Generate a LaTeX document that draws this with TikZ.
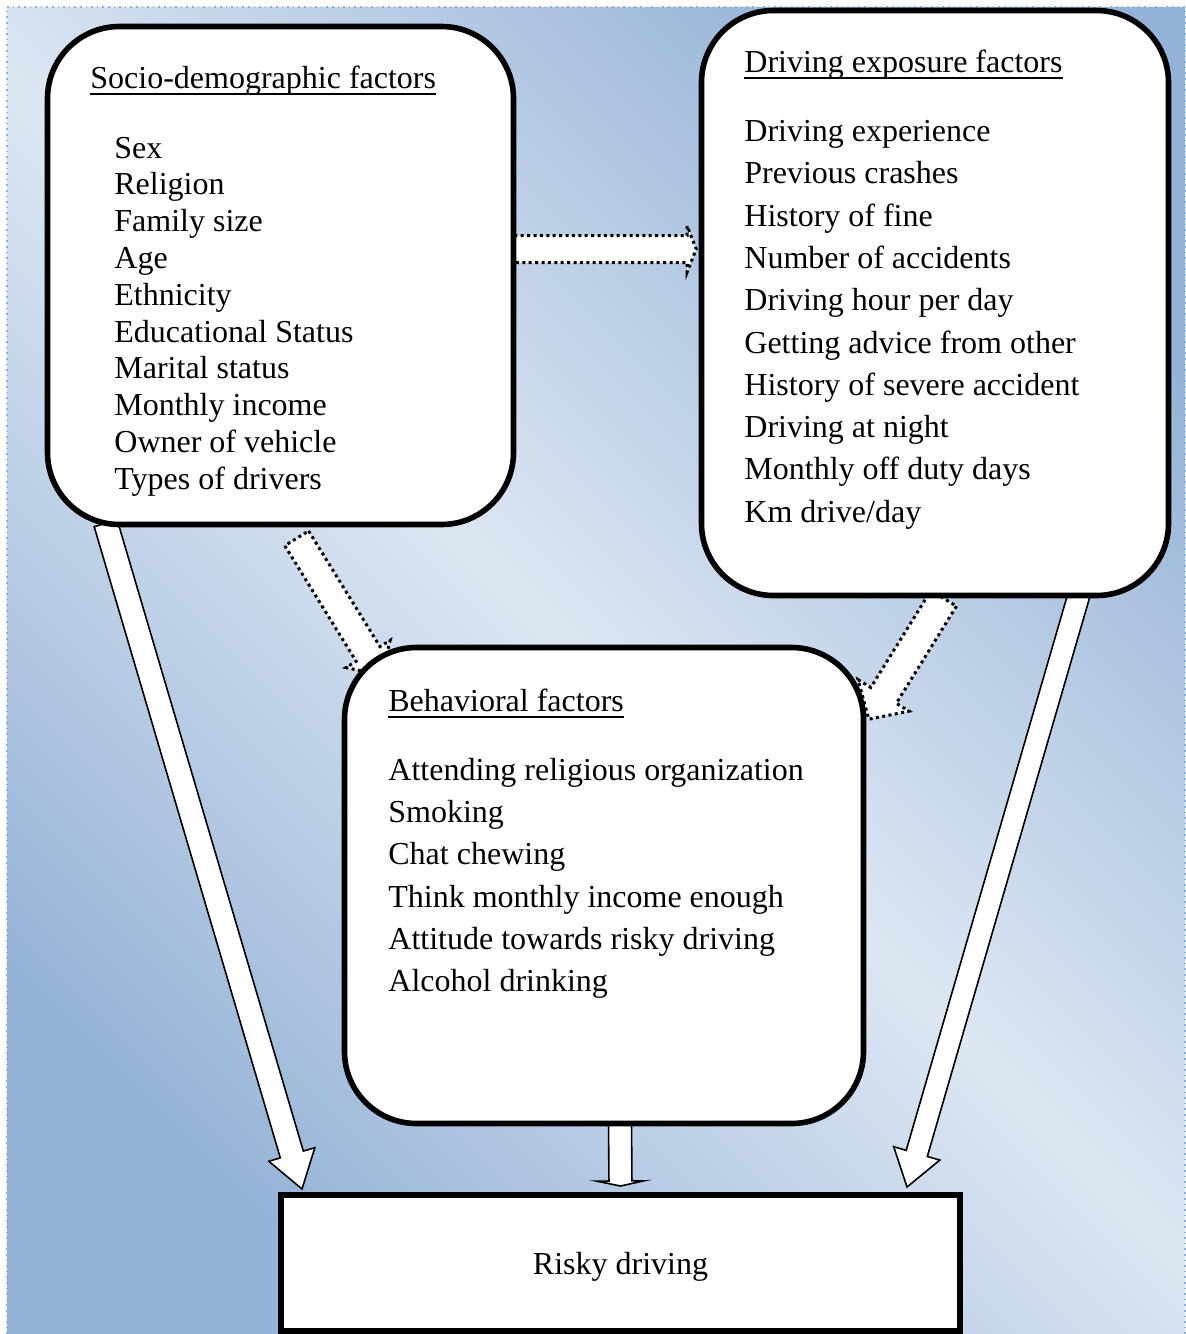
\documentclass[tikz,border=0pt]{standalone}
\usepackage{fontspec}
\setmainfont{Liberation Serif}
\usetikzlibrary{calc}

\definecolor{bgdark}{RGB}{149,179,215}
\definecolor{bglight}{RGB}{221,231,243}
\definecolor{bgline}{RGB}{141,179,226}

\pgfdeclarelayer{bglayer}
\pgfdeclarelayer{arrowlayer}
\pgfsetlayers{bglayer,arrowlayer,main}

\tikzset{
  factorbox/.style={draw, fill=white, line width=2.8pt, rounded corners=36pt, inner sep=0pt},
  outcomebox/.style={draw, fill=white, line width=3pt, inner sep=0pt, text depth=0pt, font=\fontsize{16}{19}\selectfont},
  boxtitle/.style={anchor=base west, inner sep=0pt, font=\fontsize{16}{19}\selectfont},
  boxitem/.style={anchor=base west, inner sep=0pt, font=\fontsize{16}{19}\selectfont},
  titlerule/.style={line width=0.85pt},
  fatarrow/.style={draw, fill=white, line width=0.8pt, line join=miter},
  dotarrow/.style={draw, fill=white, line width=1.5pt, dash pattern=on 1.5pt off 1.7pt},
}

% block arrow: [style]{tail}{tip}{half width}{head half width}{head length}
\newcommand{\blockarrow}[6][fatarrow]{%
  \coordinate (ba-base) at ($(#3)!#6!(#2)$);
  \draw[#1] ($(#2)!#4!90:(#3)$) -- ($(ba-base)!#4!90:(#3)$)
    -- ($(ba-base)!#5!90:(#3)$) -- (#3)
    -- ($(ba-base)!#5!-90:(#3)$) -- ($(ba-base)!#4!-90:(#3)$)
    -- ($(#2)!#4!-90:(#3)$) -- cycle;
}
% underline under a title node
\newcommand{\titleline}[1]{%
  \draw[titlerule] ($(#1.base west)+(0,5.5)$) -- ($(#1.base east)+(0,5.5)$);
}

\begin{document}
\begin{tikzpicture}[x=0.5pt, y=-0.5pt]
\useasboundingbox (0,0) rectangle (1186,1334);

% background
\begin{pgfonlayer}{bglayer}
\shade[top color=bgdark, bottom color=bgdark, middle color=bglight, shading angle=-45] (7,7) rectangle (1185,1334);
\draw[bgline, line width=0.8pt, dotted] (7,1334) -- (7,7) -- (1185,7) -- (1185,1334);
\end{pgfonlayer}

% boxes
\node[factorbox, minimum width=233pt, minimum height=249pt] (socio) at (280.5,275.5) {};
\node[factorbox, minimum width=233.5pt, minimum height=292.5pt] (expo) at (935,303) {};
\node[factorbox, minimum width=259.5pt, minimum height=238pt] (behav) at (604,885.5) {};
\node[outcomebox, minimum width=339.5pt, minimum height=68pt] (risky) at (620.5,1263) {Risky driving};

% texts
\node[boxtitle] (sdtitle) at (90,88.5) {Socio-demographic factors};
\titleline{sdtitle}
\foreach \txt [count=\i from 0] in {Sex, Religion, Family size, Age, Ethnicity, Educational Status, Marital status, Monthly income, Owner of vehicle, Types of drivers}
  \node[boxitem] (sd\i) at (114,158+36.8*\i) {\txt};

\node[boxtitle] (extitle) at (744,72.5) {Driving exposure factors};
\titleline{extitle}
\foreach \txt [count=\i from 0] in {Driving experience, Previous crashes, History of fine, Number of accidents, Driving hour per day, Getting advice from other, History of severe accident, Driving at night, Monthly off duty days, Km drive/day}
  \node[boxitem] (ex\i) at (744,141.5+42.3*\i) {\txt};

\node[boxtitle] (bhtitle) at (388,711.5) {Behavioral factors};
\titleline{bhtitle}
\foreach \txt [count=\i from 0] in {Attending religious organization, Smoking, Chat chewing, Think monthly income enough, Attitude towards risky driving, Alcohol drinking}
  \node[boxitem] (bh\i) at (388,780.5+42.2*\i) {\txt};

% arrow ends
\coordinate (sdtail) at ($(socio.south west)+(61,-4)$);
\coordinate (sdtip) at ($(risky.north west)+(24,-3)$);
\coordinate (extail) at ($(expo.south west)+(381,-6)$);
\coordinate (extip) at ($(risky.north west)+(629,-5)$);
\coordinate (bhtail) at ($(behav.south)+(16,-5)$);
\coordinate (bhtip) at ($(risky.north)+(0,-6)$);
\coordinate (linktail) at ($(socio.east)+(-2,-26.5)$);
\coordinate (linktip) at ($(expo.west)+(-2.5,-54)$);
\coordinate (sdbtail) at ($(socio.south west)+(252,11)$);
\coordinate (sdbtip) at ($(behav.north west)+(39.5,30.5)$);
\coordinate (exbtail) at ($(expo.south west)+(245,0)$);
\coordinate (exbtip) at ($(behav.north east)+(2.5,74.5)$);

% arrows
\begin{pgfonlayer}{arrowlayer}
\blockarrow{sdtail}{sdtip}{6pt}{12pt}{18pt}
\blockarrow{extail}{extip}{5.5pt}{12pt}{17.5pt}
\blockarrow{bhtail}{bhtip}{5.75pt}{11.75pt}{2.5pt}
\blockarrow[dotarrow]{linktail}{linktip}{6.75pt}{11.5pt}{4.5pt}
\blockarrow[dotarrow]{sdbtail}{sdbtip}{7pt}{13pt}{12.5pt}
\blockarrow[dotarrow]{exbtail}{exbtip}{7.5pt}{15pt}{14pt}
\end{pgfonlayer}
\end{tikzpicture}
\end{document}
